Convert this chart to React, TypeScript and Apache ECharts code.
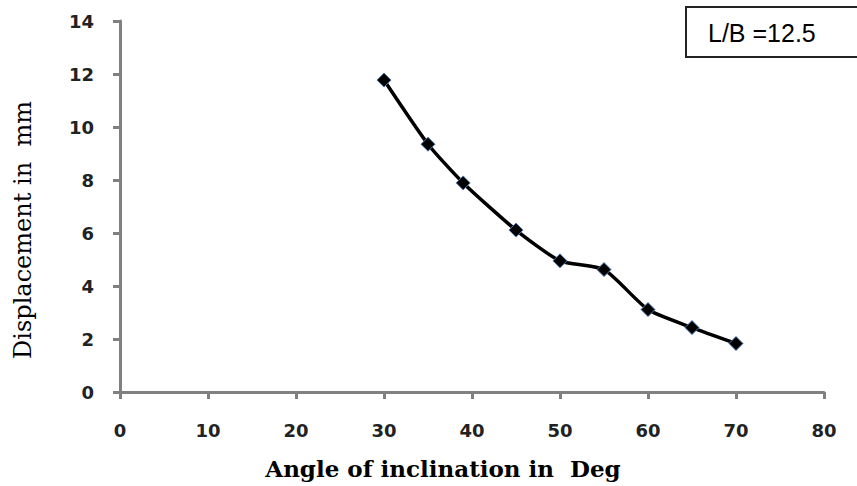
import React, { useEffect, useRef } from "react";
import * as echarts from "echarts";

const angles = [30, 35, 39, 45, 50, 55, 60, 65, 70];
const displacement = [11.77, 9.35, 7.89, 6.11, 4.95, 4.62, 3.11, 2.43, 1.83];
const xTitle = "Angle of inclination in  Deg";
const yTitle = "Displacement in  mm";
const boxLabel = "L/B =12.5";

export default function App() {
  const ref = useRef<HTMLDivElement>(null);
  useEffect(() => {
    if (!ref.current) return;
    const chart = echarts.init(ref.current, null, { renderer: "svg" });
    const axisText = { color: "#222222", fontFamily: "DejaVu Sans", fontSize: 18, fontWeight: "bold" };
    chart.setOption({
      animation: false,
      backgroundColor: "#ffffff",
      grid: { left: 120, right: 33, top: 21, bottom: 94, containLabel: false },
      xAxis: {
        type: "value",
        min: 0,
        max: 80,
        interval: 10,
        axisLine: { show: true, lineStyle: { color: "#808080", width: 3 } },
        axisTick: { show: true, inside: false, length: 7, lineStyle: { color: "#808080", width: 3 } },
        axisLabel: { ...axisText, margin: 29 },
        splitLine: { show: false },
      },
      yAxis: {
        type: "value",
        min: 0,
        max: 14,
        interval: 2,
        axisLine: { show: true, lineStyle: { color: "#808080", width: 3 } },
        axisTick: { show: true, inside: false, length: 7, lineStyle: { color: "#808080", width: 3 } },
        axisLabel: { ...axisText, margin: 26 },
        splitLine: { show: false },
      },
      series: [
        {
          type: "line",
          data: angles.map((a, i) => [a, displacement[i]]),
          smooth: 0.2,
          symbol: "diamond",
          symbolSize: 14,
          lineStyle: { color: "#000000", width: 3.5 },
          itemStyle: { color: "#000000", borderColor: "#4a78b0", borderWidth: 1 },
        },
      ],
      graphic: [
        {
          type: "text",
          x: 443,
          y: 468,
          style: {
            text: xTitle,
            fontFamily: "DejaVu Serif",
            fontWeight: "bold",
            fontSize: 23,
            fill: "#000000",
            align: "center",
            verticalAlign: "middle",
          },
        },
        {
          type: "text",
          x: 23,
          y: 230,
          rotation: Math.PI / 2,
          style: {
            text: yTitle,
            fontFamily: "DejaVu Serif",
            fontSize: 24,
            fill: "#000000",
            align: "center",
            verticalAlign: "middle",
          },
        },
        {
          type: "rect",
          shape: { x: 686, y: 7, width: 200, height: 50 },
          style: { fill: "#ffffff", stroke: "#222222", lineWidth: 2 },
        },
        {
          type: "text",
          x: 708,
          y: 33,
          style: {
            text: boxLabel,
            fontFamily: "Liberation Sans",
            fontSize: 25,
            fill: "#000000",
            verticalAlign: "middle",
          },
        },
      ],
    });
    return () => chart.dispose();
  }, []);
  return <div ref={ref} style={{ width: 857, height: 486, position: "fixed", left: 0, top: 0 }} />;
}
